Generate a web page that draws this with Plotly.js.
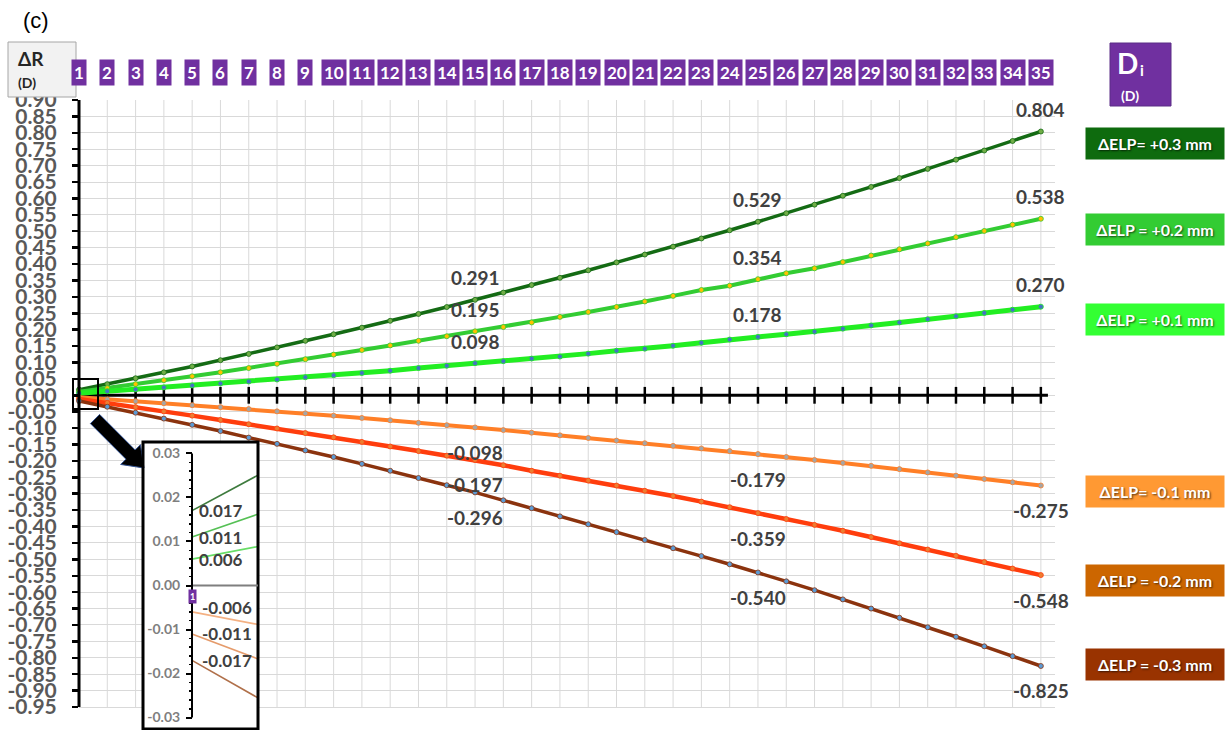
<!DOCTYPE html>
<html><head><meta charset="utf-8">
<script src="https://cdn.plot.ly/plotly-3.0.1.min.js"></script>
<style>html,body{margin:0;padding:0;background:#fff}#chart{width:1225px;height:730px}</style>
</head><body><div id="chart"></div>
<script>
// ---------------- data ----------------
const categories = [1,2,3,4,5,6,7,8,9,10,11,12,13,14,15,16,17,18,19,20,21,22,23,24,25,26,27,28,29,30,31,32,33,34,35];
const seriesNames = ['ΔELP= +0.3 mm','ΔELP = +0.2 mm','ΔELP = +0.1 mm','ΔELP= -0.1 mm','ΔELP = -0.2 mm','ΔELP = -0.3 mm'];
const elpP03 = [0.017,0.034,0.052,0.070,0.088,0.107,0.126,0.146,0.166,0.186,0.206,0.227,0.248,0.269,0.291,0.313,0.336,0.358,0.381,0.405,0.429,0.453,0.478,0.503,0.529,0.555,0.581,0.608,0.635,0.662,0.690,0.718,0.746,0.775,0.804];
const elpP02 = [0.011,0.022,0.034,0.046,0.058,0.070,0.083,0.096,0.110,0.124,0.138,0.152,0.166,0.180,0.195,0.208,0.222,0.239,0.254,0.269,0.286,0.303,0.321,0.334,0.354,0.372,0.387,0.406,0.426,0.445,0.463,0.482,0.501,0.520,0.538];
const elpP01 = [0.006,0.012,0.018,0.024,0.030,0.036,0.042,0.048,0.055,0.061,0.068,0.075,0.083,0.090,0.098,0.104,0.112,0.118,0.127,0.136,0.142,0.151,0.160,0.170,0.178,0.186,0.194,0.203,0.213,0.222,0.232,0.241,0.251,0.261,0.270];
const elpM01 = [-0.006,-0.012,-0.018,-0.024,-0.030,-0.036,-0.042,-0.049,-0.055,-0.062,-0.069,-0.076,-0.084,-0.091,-0.098,-0.106,-0.114,-0.122,-0.130,-0.138,-0.146,-0.154,-0.162,-0.170,-0.179,-0.188,-0.197,-0.206,-0.215,-0.225,-0.235,-0.245,-0.255,-0.265,-0.275];
const elpM02 = [-0.011,-0.023,-0.036,-0.049,-0.062,-0.075,-0.088,-0.101,-0.115,-0.128,-0.142,-0.156,-0.170,-0.184,-0.197,-0.213,-0.230,-0.245,-0.260,-0.275,-0.291,-0.307,-0.324,-0.341,-0.359,-0.377,-0.395,-0.413,-0.432,-0.451,-0.470,-0.489,-0.508,-0.528,-0.548];
const elpM03 = [-0.017,-0.035,-0.053,-0.071,-0.090,-0.109,-0.129,-0.148,-0.168,-0.188,-0.209,-0.230,-0.252,-0.274,-0.296,-0.320,-0.344,-0.369,-0.393,-0.417,-0.441,-0.466,-0.490,-0.515,-0.540,-0.567,-0.594,-0.622,-0.650,-0.678,-0.707,-0.736,-0.765,-0.795,-0.825];
const labelledCategories = [15,25,35];
const yTickVals = [];
for (let i = -19; i <= 18; i++) yTickVals.push(+(i*0.05).toFixed(2));
const yTickText = yTickVals.map(v => v.toFixed(2));
const insetTickVals = [-0.03,-0.02,-0.01,0,0.01,0.02,0.03];
const insetTickText = insetTickVals.map(v => v.toFixed(2));

// ---------------- styles ----------------
const allSeries = [elpP03, elpP02, elpP01, elpM01, elpM02, elpM03];
const lineColors = ['#146B14','#33CC33','#22EE22','#FF7F27','#FF3D0D','#8B330E'];
const lineWidths = [3.5,4,5,4,4.5,3.5];
const markerColors = ['#70AD47','#FFC000','#4472C4','#A5A5A5','#ED7D31','#5B9BD5'];
const insetColors = ['#3E7B3E','#55C055','#66DD66','#F4B183','#E59B6B','#B0704A'];
const boxColors = ['#0E6B0E','#33CC33','#33FF33','#FF9933','#CC6600','#993300'];
const boxTops = [127,213,303,475,564,648];

// pixel -> paper helpers (plot area: left 79, width 976, top 100, height 630)
const L = 79, W = 976, T = 100, H = 630;
const px = x => (x - L) / W;
const py = y => (T + H - y) / H;
const FONT = 'Lato, "Liberation Sans", sans-serif';

const traces = [];
traces.push({x: categories, y: categories.map(() => 0), mode: 'markers', type: 'scatter',
  marker: {symbol: 'line-ns', size: 12, line: {width: 2.5, color: '#000'}}, hoverinfo: 'skip', cliponaxis: false});
allSeries.forEach((s, i) => {
  traces.push({x: categories, y: s, name: seriesNames[i], type: 'scatter', mode: 'lines+markers',
    line: {color: lineColors[i], width: lineWidths[i]},
    marker: {size: 5, color: markerColors[i], line: {color: lineColors[i], width: 0.8}},
    cliponaxis: false});
});
allSeries.forEach((s, i) => {
  traces.push({x: categories, y: s, xaxis: 'x2', yaxis: 'y2', type: 'scatter', mode: 'lines',
    line: {color: insetColors[i], width: 1.6}, hoverinfo: 'skip'});
});

const shapes = [];
categories.forEach(c => shapes.push({type: 'line', xref: 'x', yref: 'y', x0: c, x1: c, y0: -0.95, y1: 0.9,
  line: {color: '#D9D9D9', width: 1}, layer: 'below'}));
shapes.push({type: 'line', xref: 'x', yref: 'y', x0: 1, x1: 35.25, y0: 0, y1: 0, line: {color: '#000', width: 3}, layer: 'between'});
shapes.push({type: 'line', xref: 'paper', yref: 'y', x0: 0, x1: 0, y0: -0.95, y1: 0.9, line: {color: '#000', width: 3}, layer: 'above'});
shapes.push({type: 'rect', xref: 'paper', yref: 'paper', x0: px(73), x1: px(98), y0: py(409), y1: py(379),
  line: {color: '#000', width: 2}, fillcolor: 'rgba(0,0,0,0)', layer: 'above'});
(function(){
  const S = [95, 419], Tp = [144, 468];
  const d = [Math.SQRT1_2, Math.SQRT1_2], p = [Math.SQRT1_2, -Math.SQRT1_2];
  const hl = 19, sw = 6.5, hw = 14;
  const Hh = [Tp[0] - d[0]*hl, Tp[1] - d[1]*hl];
  const pts = [
    [S[0]+p[0]*sw, S[1]+p[1]*sw], [Hh[0]+p[0]*sw, Hh[1]+p[1]*sw], [Hh[0]+p[0]*hw, Hh[1]+p[1]*hw],
    Tp, [Hh[0]-p[0]*hw, Hh[1]-p[1]*hw], [Hh[0]-p[0]*sw, Hh[1]-p[1]*sw], [S[0]-p[0]*sw, S[1]-p[1]*sw]];
  const path = pts.map((q, k) => (k ? 'L' : 'M') + px(q[0]).toFixed(5) + ',' + py(q[1]).toFixed(5)).join(' ') + ' Z';
  shapes.push({type: 'path', xref: 'paper', yref: 'paper', path: path, fillcolor: '#000', line: {color: '#2F4F8F', width: 1}, layer: 'above'});
})();
shapes.push({type: 'rect', xref: 'paper', yref: 'paper', x0: px(143), x1: px(258), y0: py(729), y1: py(442),
  line: {color: '#000', width: 3}, fillcolor: 'rgba(0,0,0,0)', layer: 'above'});
shapes.push({type: 'line', xref: 'x2', yref: 'y2', x0: 1, x1: 1.6, y0: 0, y1: 0, line: {color: '#7F7F7F', width: 2}, layer: 'above'});
shapes.push({type: 'line', xref: 'x2', yref: 'y2', x0: 1, x1: 1, y0: -0.03, y1: 0.03, line: {color: '#000', width: 2}, layer: 'above'});
shapes.push({type: 'rect', xref: 'paper', yref: 'paper', x0: px(8), x1: px(76), y0: py(97), y1: py(42),
  line: {color: '#A6A6A6', width: 1}, fillcolor: '#F2F2F2', layer: 'above'});
shapes.push({type: 'rect', xref: 'paper', yref: 'paper', x0: px(1110), x1: px(1171), y0: py(106), y1: py(43),
  line: {color: '#5B2C86', width: 1}, fillcolor: '#7030A0', layer: 'above'});

const annotations = [];
annotations.push({xref: 'paper', yref: 'paper', x: px(21), y: py(20), xanchor: 'left', yanchor: 'middle', showarrow: false,
  text: '(c)', font: {family: 'Liberation Sans, Arial', size: 22, color: '#000'}});
annotations.push({xref: 'paper', yref: 'paper', x: px(16), y: py(58), xanchor: 'left', yanchor: 'middle', showarrow: false,
  text: 'ΔR', font: {family: FONT, size: 19, color: '#262626', weight: 'bold'}});
annotations.push({xref: 'paper', yref: 'paper', x: px(16), y: py(82), xanchor: 'left', yanchor: 'middle', showarrow: false,
  text: '(D)', font: {family: FONT, size: 14, color: '#262626', weight: 'bold'}});
annotations.push({xref: 'paper', yref: 'paper', x: px(1127), y: py(63), xanchor: 'center', yanchor: 'middle', showarrow: false,
  text: 'D', font: {family: FONT, size: 28, color: '#fff', weight: 'bold'}});
annotations.push({xref: 'paper', yref: 'paper', x: px(1142), y: py(70), xanchor: 'center', yanchor: 'middle', showarrow: false,
  text: 'i', font: {family: FONT, size: 15, color: '#fff', weight: 'bold'}});
annotations.push({xref: 'paper', yref: 'paper', x: px(1130), y: py(95), xanchor: 'center', yanchor: 'middle', showarrow: false,
  text: '(D)', font: {family: FONT, size: 14, color: '#fff', weight: 'bold'}});
seriesNames.forEach((n, i) => annotations.push({xref: 'paper', yref: 'paper', x: px(1085), y: py(boxTops[i]),
  xanchor: 'left', yanchor: 'top', showarrow: false, text: n, width: 138, height: 31, align: 'center', valign: 'middle',
  bgcolor: boxColors[i], borderpad: 0,
  font: {family: FONT, size: 16, color: '#fff', weight: 'bold', shadow: '1px 1px 2px rgba(0,0,0,0.65)'}}));
categories.forEach(c => annotations.push({xref: 'x', yref: 'paper', x: c, y: py(73), xanchor: 'center', yanchor: 'middle',
  showarrow: false, text: String(c), bgcolor: '#7030A0', borderpad: 2,
  font: {family: FONT, size: 17, color: '#fff', weight: 'bold'}}));
allSeries.forEach((s, i) => labelledCategories.forEach(c => {
  const v = s[categories.indexOf(c)];
  annotations.push({xref: 'x', yref: 'y', x: c, y: v, yshift: v > 0 ? 22 : -25, showarrow: false,
    xanchor: 'center', yanchor: 'middle', text: v.toFixed(3),
    font: {family: FONT, size: 19, color: '#404040', weight: 'bold'}});
}));
allSeries.forEach((s, i) => annotations.push({xref: 'x2', yref: 'y2', x: 1, y: s[0], xanchor: 'left', yanchor: 'middle',
  xshift: s[0] > 0 ? 5 : 8, yshift: s[0] > 0 ? 0 : (i === 3 ? 4 : 0), showarrow: false, text: s[0].toFixed(3),
  font: {family: FONT, size: 17, color: '#404040', weight: 'bold'}}));
annotations.push({xref: 'x2', yref: 'y2', x: 1, y: -0.0026, xanchor: 'center', yanchor: 'middle', showarrow: false,
  text: String(categories[0]), bgcolor: '#7030A0', borderpad: 1, font: {family: FONT, size: 9, color: '#fff', weight: 'bold'}});

const insetMinor = [];
for (let i = -15; i <= 15; i++) if (i % 5 !== 0) insetMinor.push(+(i*0.002).toFixed(3));

const layout = {
  width: 1225, height: 730,
  margin: {l: L, r: 1225 - L - W, t: T, b: 730 - T - H},
  paper_bgcolor: '#fff', plot_bgcolor: '#fff', showlegend: false,
  xaxis: {range: [1, 35.5], showgrid: false, zeroline: false, showticklabels: false, ticks: '', showline: false},
  yaxis: {range: [-1.0201, 0.9], tickmode: 'array', tickvals: yTickVals, ticktext: yTickText,
    showgrid: true, gridcolor: '#D9D9D9', gridwidth: 1, zeroline: false, showline: false,
    ticks: 'outside', ticklen: 6, tickwidth: 2.5, tickcolor: '#000', ticklabelstandoff: 11,
    tickfont: {family: FONT, size: 21, color: '#595959', weight: 'bold'}},
  xaxis2: {domain: [px(143), px(258)], range: [0.6477, 1.4745], anchor: 'y2', visible: false},
  yaxis2: {domain: [py(729), py(442)], range: [-0.0326, 0.0326], anchor: 'free', position: px(192),
    tickmode: 'array', tickvals: insetTickVals, ticktext: insetTickText, showgrid: false, zeroline: false, showline: false,
    ticks: 'outside', ticklen: 6, tickwidth: 2, tickcolor: '#000', ticklabelstandoff: 3,
    minor: {tickmode: 'array', tickvals: insetMinor, ticks: 'outside', ticklen: 3, tickwidth: 1.5, tickcolor: '#000', showgrid: false},
    tickfont: {family: FONT, size: 14, color: '#7F7F7F', weight: 'bold'}},
  shapes: shapes, annotations: annotations
};
Plotly.newPlot('chart', traces, layout, {staticPlot: true, displayModeBar: false});
</script></body></html>
